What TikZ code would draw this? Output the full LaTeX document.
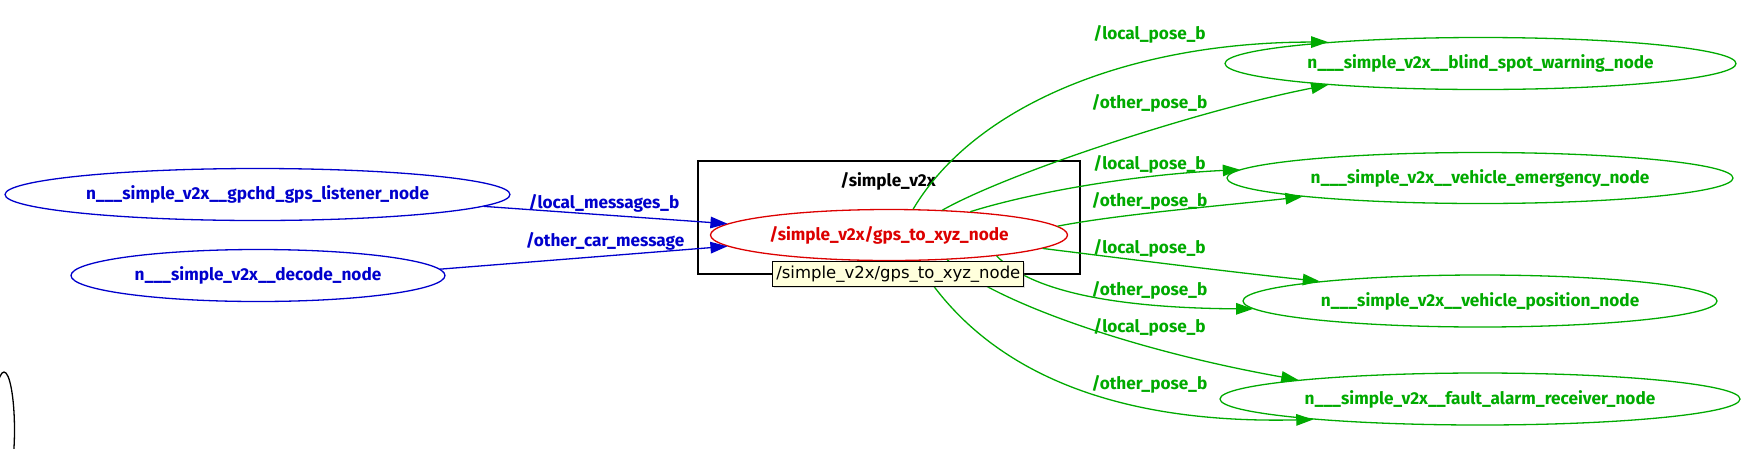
\documentclass[tikz,border=0pt]{standalone}
\usepackage{fontspec}
\usetikzlibrary{arrows.meta,shapes.geometric,shadows}
\newfontfamily\lblfont{Fira Sans}
\newfontfamily\tipfont{DejaVu Sans}
\definecolor{gblue}{RGB}{0,0,204}
\definecolor{gred}{RGB}{220,0,0}
\definecolor{ggreen}{RGB}{0,170,0}
\definecolor{tipbg}{RGB}{255,255,220}
\begin{document}
\begin{tikzpicture}[x=1pt,y=-1pt,
  lbl/.style={font=\lblfont\bfseries\fontsize{17.2}{20}\selectfont, inner sep=0pt},
  gnode/.style={ellipse, draw, line width=1.3pt, inner sep=0pt, lbl},
  bnode/.style={gnode, draw=gblue, text=gblue},
  grnode/.style={gnode, draw=ggreen, text=ggreen},
  edgebase/.style={line width=1.3pt, -{Triangle[length=17pt,width=11.5pt]}},
  bedge/.style={edgebase, draw=gblue},
  gedge/.style={edgebase, draw=ggreen},
  blbl/.style={lbl, text=gblue},
  glbl/.style={lbl, text=ggreen},
  tip/.style={draw=black, line width=0.8pt, fill=tipbg, inner sep=0pt,
    font=\tipfont\fontsize{16.5}{19}\selectfont,
    drop shadow={shadow xshift=1.5pt, shadow yshift=-1.5pt, opacity=0.25}}
]
\useasboundingbox (0,0) rectangle (1764,448);
\clip (0,0) rectangle (1764,448);

% cluster
\node[draw=black, line width=1.2pt, minimum width=382pt, minimum height=113pt, inner sep=0pt] (cluster) at (889,217.5) {};
\node[lbl, text=black] (clusterlbl) at (888,181.7) {/simple\_v2x};

% nodes
\node[bnode, minimum width=505pt, minimum height=52pt] (gpchd) at (257.5,194.5) {n\_\_\_simple\_v2x\_\_gpchd\_gps\_listener\_node};
\node[bnode, minimum width=374pt, minimum height=52pt] (decode) at (258,275.5) {n\_\_\_simple\_v2x\_\_decode\_node};
\node[gnode, draw=gred, text=gred, minimum width=357pt, minimum height=51pt] (gps) at (889,235) {/simple\_v2x/gps\_to\_xyz\_node};
\node[grnode, minimum width=511pt, minimum height=52pt] (blind) at (1480.5,63.5) {n\_\_\_simple\_v2x\_\_blind\_spot\_warning\_node};
\node[grnode, minimum width=506pt, minimum height=51pt] (emerg) at (1480,178) {n\_\_\_simple\_v2x\_\_vehicle\_emergency\_node};
\node[grnode, minimum width=474pt, minimum height=52pt] (vpos) at (1480,301) {n\_\_\_simple\_v2x\_\_vehicle\_position\_node};
\node[grnode, minimum width=520pt, minimum height=52pt] (fault) at (1480,399) {n\_\_\_simple\_v2x\_\_fault\_alarm\_receiver\_node};
\node[ellipse, draw=black, line width=1.3pt, inner sep=0pt, minimum width=21pt, minimum height=116pt] (cut) at (4,430) {};

% blue edges
\draw[bedge] (gpchd.-3.34) -- (gps.176.5);
\draw[bedge] (decode.2.4) -- (gps.184.5);
\node[blbl] (lm) at (604,203) {/local\_messages\_b};
\node[blbl] (om) at (605,241.7) {/other\_car\_message};

% green edges
\draw[gedge] (gps.47.7) .. controls (975,105) and (1130,42) .. (blind.172.45);
\draw[gedge] (gps.25.6) .. controls (1010,172) and (1200,110) .. (blind.188.5);
\draw[gedge] (gps.16.8) .. controls (1030,193) and (1130,175) .. (emerg.178.7);
\draw[gedge] (gps.3.5) .. controls (1120,214) and (1230,205) .. (emerg.186.8);
\draw[gedge] (gps.-5.9) .. controls (1120,258) and (1230,272) .. (vpos.173.8);
\draw[gedge] (gps.-11.7) .. controls (1030,290) and (1110,308) .. (vpos.182.8);
\draw[gedge] (gps.-23.2) .. controls (990,300) and (1130,350) .. (fault.174.8);
\draw[gedge] (gps.-43.9) .. controls (970,350) and (1080,425) .. (fault.187.1);

\node[glbl] (lp1) at (1149.5,34) {/local\_pose\_b};
\node[glbl] (op1) at (1149.5,103) {/other\_pose\_b};
\node[glbl] (lp2) at (1149.5,164) {/local\_pose\_b};
\node[glbl] (op2) at (1149.5,201.7) {/other\_pose\_b};
\node[glbl] (lp3) at (1149.5,248) {/local\_pose\_b};
\node[glbl] (op3) at (1149.5,290) {/other\_pose\_b};
\node[glbl] (lp4) at (1149.5,327) {/local\_pose\_b};
\node[glbl] (op4) at (1149.5,384) {/other\_pose\_b};

% tooltip
\node[tip, minimum width=251pt, minimum height=25.7pt] (tooltip) at (898.3,273.9) {/simple\_v2x/gps\_to\_xyz\_node};
\end{tikzpicture}
\end{document}
